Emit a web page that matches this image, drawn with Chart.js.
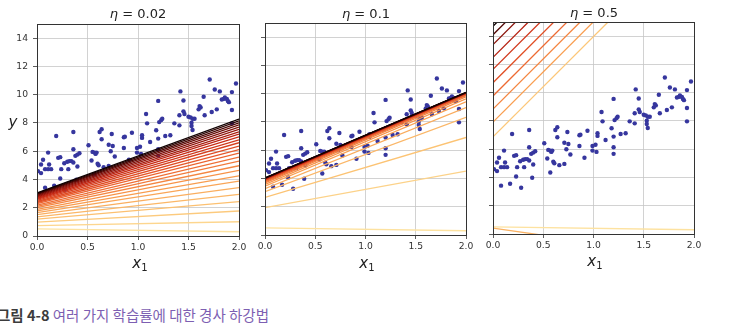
<!DOCTYPE html>
<html>
<head>
<meta charset="utf-8">
<script src="https://cdn.jsdelivr.net/npm/chart.js"></script>
<style>
    body { margin: 0; width: 732px; height: 325px; background: #fff; position: relative; overflow: hidden; font-family: 'DejaVu Sans'; }
    canvas { position: absolute; top: 0; }
    .lbl { position: absolute; transform: translate(-50%, -50%); color: #222; white-space: nowrap; }
    .ttl { font-size: 13px; }
    .axl { font-size: 15px; font-style: italic; }
    .axl sub { font-size: 10px; font-style: normal; vertical-align: -3px; }
</style>
</head>
<body>

<canvas id="p1" width="251" height="270" style="left:0px"></canvas>
<canvas id="p2" width="250" height="270" style="left:228px"></canvas>
<canvas id="p3" width="250" height="270" style="left:456px"></canvas>

<!-- 제목, 축 이름 -->
<div class="lbl ttl" style="left:138px; top:13px"><i>η</i> = 0.02</div>
<div class="lbl ttl" style="left:366px; top:13px"><i>η</i> = 0.1</div>
<div class="lbl ttl" style="left:594px; top:12px"><i>η</i> = 0.5</div>
<div class="lbl axl" style="left:13px; top:122px">y</div>
<div class="lbl axl" style="left:140px; top:263px">x<sub>1</sub></div>
<div class="lbl axl" style="left:367px; top:263px">x<sub>1</sub></div>
<div class="lbl axl" style="left:595px; top:261px">x<sub>1</sub></div>

<div style="position:absolute; left:-3px; top:304px; font-family:'Noto Sans CJK KR'; font-size:14.5px; white-space:nowrap;">
    <b style="color:#3c3c3c">그림 4-8</b> <span style="color:#7d5fb2">여러 가지 학습률에 대한 경사 하강법</span>
</div>

<script>
    // 학습 데이터 (X, y)
    var pointsX = [0.19,0.36,0.62,0.64,0.64,0.86,0.87,0.94,1.04,1.04, 1.08,1.09,1.18,1.20,1.20,1.21,1.23,1.24,1.27,1.32,
                   1.36,1.41,1.41,1.42,1.45,1.45,1.46,1.50,1.52,1.54, 1.56,1.53,1.53,1.54,1.60,1.62,1.61,1.65,1.66,1.71,
                   1.73,1.76,1.81,1.78,1.83,1.85,1.86,1.88,1.89,1.90, 1.93,1.93,1.93,1.97,
                   0.06,0.04,0.01,0.04,0.08,0.11,0.14,0.11,0.12,0.08, 0.17,0.23,0.21,0.23,0.24,0.27,0.30,0.32,0.34,0.36,
                   0.28,0.31,0.36,0.38,0.40,0.42,0.40,0.39,0.51,0.54, 0.55,0.57,0.58,0.59,0.57,0.60,0.61,0.66,0.71,0.71,
                   0.75,0.73,0.77,0.74,0.86,0.91,0.99,0.99,1.03,1.02, 1.12,1.20,1.20];
    var pointsY = [7.08,7.36,7.36,7.55,6.85,6.99,7.03,7.31,7.13,6.94, 8.63,7.97,7.48,6.89,9.56,8.06,8.20,8.30,7.08,7.13,
                   7.97,8.54,7.83,10.23,9.59,8.82,8.63,8.44,8.39,8.30, 8.30,8.01,7.78,7.50,8.96,9.10,9.19,9.85,8.54,11.07,
                   8.77,10.37,10.23,8.96,9.66,9.70,9.80,9.70,9.56,9.47, 10.18,8.91,7.97,10.79,
                   5.39,5.06,4.59,4.45,4.73,4.73,4.73,5.90,5.06,3.42, 3.56,4.07,5.53,5.58,4.73,5.15,5.25,5.30,5.30,5.20,
                   3.27,4.73,6.14,5.67,5.76,5.86,4.92,3.98,6.42,5.34, 5.95,5.90,5.81,5.90,4.35,5.11,5.01,4.87,4.96,6.46,
                   6.37,6.00,5.62,7.22,6.23,5.39,6.23,5.90,5.81,6.32, 6.65,6.14,5.67];

    // 반복마다의 예측 직선: x=0, x=2 에서의 값
    var lineX = [0, 2];
    var eta002Left  = [0.50,0.74,0.98,1.19,1.35,1.51,1.66,1.77,1.89,2.00,2.10,2.19,2.29,2.37,2.44,2.52,2.59,2.65,2.71,2.76,2.82,2.87,2.92,2.97,3.01,3.05];
    var eta002Right = [0.30,1.01,1.77,2.43,2.94,3.42,3.89,4.26,4.64,4.97,5.30,5.58,5.87,6.12,6.36,6.60,6.81,7.02,7.21,7.37,7.54,7.70,7.87,8.01,8.15,8.27];
    var eta01Left   = [0.50,1.93,2.66,3.06,3.28,3.45,3.58,3.68,3.76,3.82,3.87,3.91,3.94,3.96,3.98,4.00,4.01,4.02,4.03,4.04];
    var eta01Right  = [0.30,4.52,6.90,8.32,9.02,9.42,9.63,9.77,9.86,9.92,9.97,10.00,10.02,10.04,10.05,10.06,10.07,10.08,10.08,10.09];
    var eta05Left   = [0.50,6.87,0.41,7.92,8.84,9.77,10.70,11.65,12.50,13.40,14.10,14.70];
    var eta05Right  = [0.30,21.07,-1.59,22.12,23.04,23.97,24.90,25.85,26.70,27.60,28.30,28.90];

    var xTicks = [0, 0.5, 1.0, 1.5, 2.0];
    var yTicks = [0, 2, 4, 6, 8, 10, 12, 14];

    // 노랑 -> 주황 -> 빨강 -> 검정
    var cmap = [[0,'#fde2a0'],[0.1,'#fcc474'],[0.3,'#f8984a'],[0.5,'#ea5c2b'],[0.7,'#c42412'],[0.86,'#740a05'],[1,'#100000']];
    function hexRgb(h) { return [1,3,5].map(i => parseInt(h.substr(i,2),16)); }
    function colorAt(t) {
        for (var k = 1; k < cmap.length; k++) {
            if (t <= cmap[k][0]) {
                var a = hexRgb(cmap[k-1][1]), b = hexRgb(cmap[k][1]);
                var f = (t - cmap[k-1][0]) / (cmap[k][0] - cmap[k-1][0]);
                return 'rgb(' + a.map((v, j) => Math.round(v + (b[j]-v)*f)).join(',') + ')';
            }
        }
        return cmap[cmap.length-1][1];
    }

    // 축 테두리
    var frame = {
        id: 'frame',
        afterDraw(chart) {
            var a = chart.chartArea, ctx = chart.ctx;
            ctx.save();
            ctx.strokeStyle = '#333';
            ctx.lineWidth = 1;
            ctx.strokeRect(Math.round(a.left)+0.5, Math.round(a.top)+0.5, Math.round(a.right-a.left), Math.round(a.bottom-a.top));
            ctx.restore();
        }
    };

    function drawPanel(id, leftVals, rightVals, plotTop, plotBottom, showY) {
        var n = leftVals.length;
        var datasets = [];
        for (var i = 0; i < n; i++) {
            datasets.push({
                data: [{x: lineX[0], y: leftVals[i]}, {x: lineX[1], y: rightVals[i]}],
                showLine: true,
                pointRadius: 0,
                borderWidth: 1.3,
                borderColor: colorAt(i / (n - 1)),
                order: n - i
            });
        }
        datasets.push({
            data: pointsX.map((x, i) => ({x: x, y: pointsY[i]})),
            pointRadius: 2.2,
            pointBackgroundColor: '#36369e',
            pointBorderWidth: 0,
            order: n + 5
        });
        var tickFont = {family: 'DejaVu Sans', size: 9.2};
        new Chart(document.getElementById(id), {
            type: 'scatter',
            data: {datasets: datasets},
            options: {
                responsive: false,
                animation: false,
                events: [],
                layout: {padding: {top: plotTop, right: 12, left: 0, bottom: 0}},
                plugins: {legend: {display: false}, tooltip: {enabled: false}},
                scales: {
                    x: {
                        type: 'linear', min: 0, max: 2,
                        afterBuildTicks: s => { s.ticks = xTicks.map(v => ({value: v})); },
                        afterFit: s => { s.height = 270 - plotBottom; },
                        grid: {color: '#c6c6c6', lineWidth: 0.8, tickColor: '#333', tickLength: 4},
                        border: {display: false},
                        ticks: {callback: v => v.toFixed(1), color: '#333', font: tickFont, padding: 2, maxRotation: 0, autoSkip: false}
                    },
                    y: {
                        type: 'linear', min: 0, max: 15,
                        afterBuildTicks: s => { s.ticks = yTicks.map(v => ({value: v})); },
                        afterFit: s => { s.width = 37; },
                        grid: {color: '#c6c6c6', lineWidth: 0.8, tickColor: '#333', tickLength: 4},
                        border: {display: false},
                        ticks: {display: showY, color: '#333', font: tickFont, padding: 5, autoSkip: false}
                    }
                }
            },
            plugins: [frame]
        });
    }

    drawPanel('p1', eta002Left, eta002Right, 24, 236, true);
    drawPanel('p2', eta01Left, eta01Right, 23, 235, false);
    drawPanel('p3', eta05Left, eta05Right, 22, 234, false);
</script>
</body>
</html>
